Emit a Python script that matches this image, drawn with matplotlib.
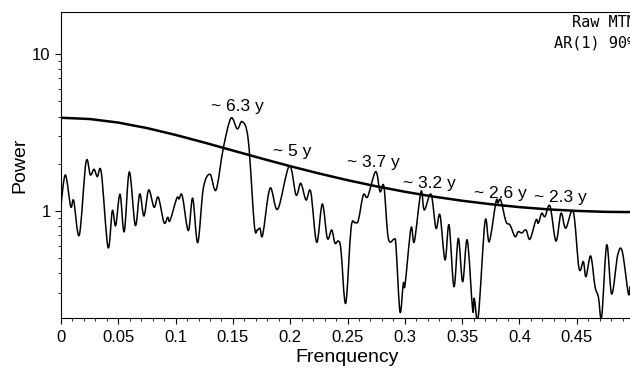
import matplotlib
matplotlib.use('Agg')
import numpy as np
import matplotlib.pyplot as plt
from matplotlib.path import Path
from matplotlib.patches import PathPatch
from matplotlib.ticker import MultipleLocator, LogLocator, NullFormatter

plt.rcParams['font.family'] = ['Liberation Sans', 'DejaVu Sans']

# raw MTM spectrum
freq = [0.0, 0.0038, 0.0085, 0.0111, 0.016, 0.0218, 0.0256, 0.0288, 0.0317, 0.0352,
        0.041, 0.0448, 0.0477, 0.0515, 0.0552, 0.0596, 0.0648, 0.0687, 0.0724, 0.0765,
        0.0812, 0.0849, 0.0899, 0.0931, 0.0951, 0.101, 0.103, 0.1058, 0.1111, 0.1149,
        0.1193, 0.1242, 0.13, 0.1353, 0.1416, 0.1483, 0.1538, 0.1582, 0.1634, 0.1687,
        0.1713, 0.1736, 0.176, 0.1824, 0.1891, 0.1992, 0.2051, 0.2092, 0.2138, 0.2179,
        0.2231, 0.228, 0.2324, 0.2362, 0.2391, 0.242, 0.2443, 0.2484, 0.2531, 0.2565,
        0.2594, 0.2638, 0.2676, 0.2746, 0.2784, 0.2818, 0.2856, 0.2908, 0.2923, 0.2958,
        0.2987, 0.3002, 0.3054, 0.3083, 0.3141, 0.317, 0.3229, 0.3272, 0.3307, 0.3351,
        0.3386, 0.3429, 0.3467, 0.3505, 0.3545, 0.3592, 0.3606, 0.3641, 0.37, 0.3737,
        0.3796, 0.3813, 0.3837, 0.3883, 0.3918, 0.3962, 0.399, 0.402, 0.4058, 0.4092,
        0.4145, 0.4165, 0.4195, 0.4223, 0.4267, 0.4319, 0.4363, 0.4404, 0.447, 0.452,
        0.4558, 0.4581, 0.4622, 0.466, 0.4689, 0.4718, 0.4762, 0.4805, 0.4858, 0.4898,
        0.495, 0.4965]
power = [1.092, 1.697, 1.065, 1.163, 0.703, 2.046, 1.697, 1.845, 1.655, 1.756,
         0.587, 1.004, 0.806, 1.278, 0.738, 1.774, 0.810, 1.284, 0.929, 1.361,
         1.056, 1.223, 0.842, 0.912, 0.867, 1.205, 1.193, 1.252, 0.749, 1.205,
         0.628, 1.396, 1.715, 1.361, 2.513, 3.905, 3.337, 3.715, 2.839, 0.814,
         0.756, 0.776, 0.703, 1.396, 1.025, 1.938, 1.265, 1.502, 1.175, 1.328,
         0.631, 1.108, 0.669, 0.756, 0.622, 0.643, 0.564, 0.2576, 0.776, 0.842,
         0.867, 1.265, 1.234, 1.782, 1.328, 1.429, 0.669, 0.660, 0.598, 0.2278,
         0.3456, 0.337, 0.776, 0.637, 1.328, 1.015, 1.278, 0.776, 0.943, 0.487,
         0.814, 0.3288, 0.669, 0.3538, 0.653, 0.2335, 0.2773, 0.2116, 0.855, 0.637,
         1.147, 1.125, 1.175, 0.855, 0.814, 0.686, 0.738, 0.724, 0.756, 0.660,
         0.876, 0.835, 0.967, 0.920, 1.076, 0.643, 0.967, 0.776, 0.990, 0.431,
         0.475, 0.381, 0.516, 0.3288, 0.2838, 0.2116, 0.607, 0.2953, 0.524, 0.550,
         0.2984, 0.3288]

# AR(1) 90% level
ar_freq = [0.0, 0.025, 0.05, 0.075, 0.1, 0.125, 0.15, 0.175, 0.2, 0.225, 0.25,
           0.275, 0.3, 0.325, 0.35, 0.375, 0.4, 0.425, 0.45, 0.475, 0.5]
ar_power = [3.93, 3.859, 3.662, 3.378, 3.055, 2.731, 2.429, 2.161, 1.930, 1.735, 1.572,
            1.437, 1.326, 1.235, 1.162, 1.104, 1.058, 1.024, 1.001, 0.987, 0.983]

# period labels
peak_labels = ['~ 6.3 y', '~ 5 y', '~ 3.7 y', '~ 3.2 y', '~ 2.6 y', '~ 2.3 y']
peak_x = [0.1536, 0.2013, 0.2725, 0.3214, 0.3831, 0.4354]
peak_y = [4.61, 2.39, 2.033, 1.502, 1.297, 1.223]

xtick_vals = [0, 0.05, 0.1, 0.15, 0.2, 0.25, 0.3, 0.35, 0.4, 0.45]
xtick_labels = ['0', '0.05', '0.1', '0.15', '0.2', '0.25', '0.3', '0.35', '0.4', '0.45']


def smooth_path(xs, ys):
    # Catmull-Rom style bezier through the points, built in log space
    x = np.asarray(xs, float)
    y = np.log10(np.asarray(ys, float))
    px = np.concatenate([[x[0]], x, [x[-1]]])
    py = np.concatenate([[y[0]], y, [y[-1]]])
    verts = [(x[0], 10 ** y[0])]
    codes = [Path.MOVETO]
    for i in range(1, len(px) - 2):
        c1 = (px[i] + (px[i + 1] - px[i - 1]) / 6, py[i] + (py[i + 1] - py[i - 1]) / 6)
        c2 = (px[i + 1] - (px[i + 2] - px[i]) / 6, py[i + 1] - (py[i + 2] - py[i]) / 6)
        verts += [(c1[0], 10 ** c1[1]), (c2[0], 10 ** c2[1]), (px[i + 1], 10 ** py[i + 1])]
        codes += [Path.CURVE4] * 3
    return Path(verts, codes)


fig = plt.figure(figsize=(6.3, 3.72), dpi=100)
ax = fig.add_axes([61 / 630, (372 - 317.7) / 372, 573 / 630, 305.4 / 372])

ax.add_patch(PathPatch(smooth_path(freq, power), fill=False, edgecolor='black',
                       linewidth=1.1, joinstyle='round', capstyle='round'))
ax.plot(ar_freq, ar_power, color='black', linewidth=1.8)

for lab, x, y in zip(peak_labels, peak_x, peak_y):
    ax.text(x, y, lab, ha='center', va='center', fontsize=12.5)

ax.set_yscale('log')
ax.set_xlim(0, 0.5)
ax.set_ylim(0.2085, 18.5)

ax.set_xticks(xtick_vals)
ax.set_xticklabels(xtick_labels)
ax.xaxis.set_minor_locator(MultipleLocator(0.01))
ax.set_yticks([1, 10])
ax.set_yticklabels(['1', '10'])
ax.yaxis.set_minor_locator(LogLocator(base=10, subs=range(2, 10)))
ax.yaxis.set_minor_formatter(NullFormatter())

ax.tick_params(which='major', length=4, width=0.8, labelsize=12, direction='out')
ax.tick_params(which='minor', length=2.2, width=0.6, direction='out')
ax.tick_params(axis='x', pad=5)

ax.set_xlabel('Frenquency', fontsize=14, labelpad=3)
ax.set_ylabel('Power', fontsize=14, labelpad=3)

# legend text, cut by the right edge as in the original
ax.text(1.0035, 0.965, 'Raw MTM', transform=ax.transAxes, ha='right', va='center',
        family='DejaVu Sans Mono', fontsize=11, clip_on=False)
ax.text(1.0035, 0.8995, 'AR(1) 90%', transform=ax.transAxes, ha='right', va='center',
        family='DejaVu Sans Mono', fontsize=11, clip_on=False)

fig.savefig('out.png', dpi=100)
